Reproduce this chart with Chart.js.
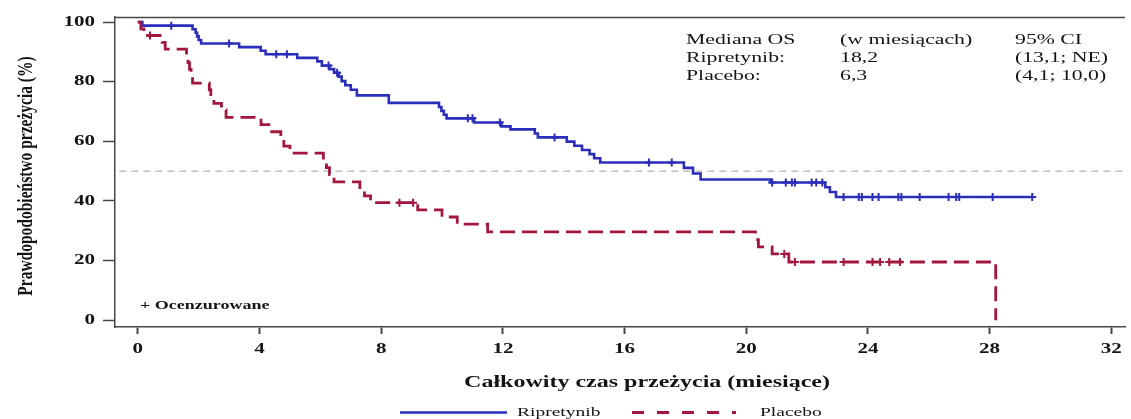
<!DOCTYPE html>
<html lang="pl">
<head>
<meta charset="utf-8">
<title>Całkowity czas przeżycia – Ripretynib vs Placebo</title>
<script src="https://cdn.jsdelivr.net/npm/chart.js@4.4.1/dist/chart.umd.min.js"></script>
<style>
  html, body { margin: 0; padding: 0; background: #ffffff; overflow: hidden; }
  canvas { display: block; }
</style>
</head>
<body>
<canvas id="km" width="1131" height="419"></canvas>
<script>
// ---- data ---------------------------------------------------------------
const xTicks = [0, 4, 8, 12, 16, 20, 24, 28, 32];
const yTicks = [0, 20, 40, 60, 80, 100];

// Kaplan–Meier steps: survival (%) from each time (months) onward
const ripTimes = [0, 0.15, 1.8, 1.9, 1.95, 2.0, 2.08, 3.33, 4.04, 4.2, 5.24, 5.9, 6.05, 6.3, 6.45, 6.6, 6.7, 6.82, 7.0, 7.2,
                  8.25, 9.9, 9.98, 10.06, 10.15, 11.05, 11.95, 12.25, 13.05, 13.15, 14.1, 14.35, 14.6, 14.85, 15.0, 15.2,
                  17.95, 18.25, 18.5, 20.8, 22.6, 22.75, 22.95, 29.4];
const ripSurv  = [100, 98.8, 97.6, 96.4, 95.2, 94.0, 92.8, 91.6, 90.4, 89.2, 88.0, 86.8, 85.4, 84.2, 83.0, 81.7, 80.2, 78.8, 77.3, 75.4,
                  72.9, 71.5, 70.2, 68.9, 67.7, 66.3, 65.0, 64.0, 62.6, 61.3, 59.9, 58.5, 57.1, 55.7, 54.3, 52.9,
                  51.1, 49.2, 47.2, 46.2, 44.6, 43.0, 41.3, 41.3];
const ripCensor = [1.1, 3.0, 4.55, 4.9, 6.27, 6.55, 10.85, 11.0, 11.9, 13.7, 16.8, 17.55, 20.85, 21.3, 21.5, 21.6, 22.15, 22.3, 22.5,
                   23.2, 23.7, 23.8, 24.15, 24.35, 25.0, 25.1, 25.7, 26.65, 26.9, 27.0, 28.1, 29.4];

const plaTimes = [0, 0.1, 0.2, 0.8, 0.9, 1.6, 1.65, 1.7, 1.75, 1.8, 2.35, 2.4, 2.5, 2.75, 2.9, 4.05, 4.4, 4.7, 4.8, 5.0,
                  6.1, 6.2, 6.3, 6.45, 7.3, 7.45, 7.65, 9.2, 10.0, 10.5, 11.5, 20.3, 20.4, 20.85, 21.4, 28.2];
const plaSurv  = [100, 97.7, 95.5, 93.2, 90.9, 88.6, 86.4, 84.1, 81.8, 79.5, 77.3, 75.0, 72.7, 70.5, 68.0, 65.6, 63.2, 60.8, 58.4, 56.0,
                  53.6, 51.2, 48.8, 46.4, 44.0, 41.7, 39.4, 37.0, 34.6, 32.2, 29.6, 27.0, 24.6, 22.2, 19.5, 0];
const plaCensor = [0.4, 8.6, 9.05, 21.25, 21.6, 23.2, 24.15, 24.4, 24.7, 25.05];

const medianLevel = 50;
const seriesNames = ['Ripretynib', 'Placebo'];
const summaryRows = [
  ['Mediana OS', '(w miesiącach)', '95% CI'],
  ['Ripretynib:', '18,2', '(13,1; NE)'],
  ['Placebo:', '6,3', '(4,1; 10,0)']
];
const censorNote = '+ Ocenzurowane';
const xTitle = 'Całkowity czas przeżycia (miesiące)';
const yTitle = 'Prawdopodobieństwo przeżycia (%)';

// ---- helpers ------------------------------------------------------------
const SERIF = "'Liberation Serif', 'Times New Roman', serif";
const BLUE = '#2b2eba';
const RED = '#a3173e';
const INK = '#141414';
const AXIS = '#474747';

function toPoints(times, surv) {
  return times.map((t, i) => ({ x: t, y: surv[i] }));
}
// survival level of a step curve at time t (places censor ticks on the curve)
function levelAt(times, surv, t) {
  let v = surv[0];
  for (let i = 0; i < times.length; i++) { if (times[i] <= t) v = surv[i]; }
  return v;
}
function censorPoints(times, surv, cens) {
  return cens.map(t => ({ x: t, y: levelAt(times, surv, t) }));
}

// wide serif lettering: horizontal text is drawn stretched sideways
const canvas = document.getElementById('km');
const ctx = canvas.getContext('2d');
const TEXT_STRETCH = 1.5;
const rawFillText = ctx.fillText;
ctx.fillText = function (text, x, y) {
  const m = this.getTransform();
  if (m.b !== 0 || m.c !== 0) return rawFillText.call(this, text, x, y);
  this.save();
  this.translate(x, y);
  this.scale(TEXT_STRETCH, 1);
  rawFillText.call(this, text, 0, 0);
  this.restore();
};

// frame top edge, summary table, titles and legend
const decorations = {
  id: 'decorations',
  afterDraw(chart) {
    const c = chart.ctx;
    const a = chart.chartArea;
    c.save();

    // top edge of the plot frame
    c.strokeStyle = AXIS;
    c.lineWidth = 1.5;
    c.beginPath();
    c.moveTo(a.left, a.top + 0.5);
    c.lineTo(a.right, a.top + 0.5);
    c.stroke();

    // median summary
    c.fillStyle = INK;
    c.font = `14.5px ${SERIF}`;
    c.textAlign = 'left';
    c.textBaseline = 'alphabetic';
    const cols = [686, 840, 1015];
    const rows = [43.5, 61.5, 79.5];
    summaryRows.forEach((r, i) => r.forEach((txt, j) => c.fillText(txt, cols[j], rows[i])));

    // censoring note
    c.font = `bold 12px ${SERIF}`;
    c.fillText(censorNote, 140, 309);

    // x axis title
    c.font = `bold 16px ${SERIF}`;
    c.textAlign = 'center';
    c.fillText(xTitle, 647, 387);

    // y axis title (rotated, glyphs widened across the page)
    c.save();
    c.translate(32, 176);
    c.rotate(-Math.PI / 2);
    c.scale(1, 1.35);
    c.font = `bold 15.5px ${SERIF}`;
    c.textAlign = 'center';
    c.textBaseline = 'alphabetic';
    c.fillText(yTitle, 0, 0);
    c.restore();

    // legend
    const ly = 412.5;
    c.lineCap = 'butt';
    c.strokeStyle = BLUE;
    c.lineWidth = 2.5;
    c.setLineDash([]);
    c.beginPath(); c.moveTo(400, ly); c.lineTo(507, ly); c.stroke();
    c.strokeStyle = RED;
    c.lineWidth = 3;
    c.setLineDash([12, 13]);
    c.beginPath(); c.moveTo(632, ly); c.lineTo(736, ly); c.stroke();
    c.setLineDash([]);
    c.font = `13px ${SERIF}`;
    c.textAlign = 'left';
    c.textBaseline = 'middle';
    c.fillStyle = INK;
    c.fillText(seriesNames[0], 517, ly);
    c.fillText(seriesNames[1], 760, ly);

    c.restore();
  }
};

new Chart(ctx, {
  type: 'line',
  data: {
    datasets: [
      {
        label: 'median',
        data: [{ x: -1, y: medianLevel }, { x: 40, y: medianLevel }],
        borderColor: '#a0a0a0',
        borderWidth: 1,
        borderDash: [7, 5],
        pointRadius: 0,
        order: 10
      },
      {
        label: seriesNames[0],
        data: toPoints(ripTimes, ripSurv),
        stepped: 'before',
        borderColor: BLUE,
        borderWidth: 2.6,
        pointRadius: 0,
        order: 2
      },
      {
        label: seriesNames[1],
        data: toPoints(plaTimes, plaSurv),
        stepped: 'before',
        borderColor: RED,
        borderWidth: 2.8,
        borderDash: [15, 7],
        pointRadius: 0,
        order: 1
      },
      {
        label: seriesNames[0] + ' censored',
        data: censorPoints(ripTimes, ripSurv, ripCensor),
        showLine: false,
        pointStyle: 'cross',
        pointRadius: 4,
        pointBorderWidth: 2,
        pointBorderColor: BLUE,
        order: 0
      },
      {
        label: seriesNames[1] + ' censored',
        data: censorPoints(plaTimes, plaSurv, plaCensor),
        showLine: false,
        pointStyle: 'cross',
        pointRadius: 4,
        pointBorderWidth: 2,
        pointBorderColor: RED,
        order: 0
      }
    ]
  },
  options: {
    responsive: false,
    animation: false,
    devicePixelRatio: 1,
    layout: { padding: { top: 17, right: 0, bottom: 0, left: 0 } },
    plugins: { legend: { display: false }, tooltip: { enabled: false } },
    scales: {
      x: {
        type: 'linear',
        position: 'bottom',
        min: -0.75,
        max: 32.45,
        afterBuildTicks(s) { s.ticks = xTicks.map(v => ({ value: v })); },
        afterFit(s) { s.height = 92; },
        ticks: {
          color: INK,
          font: { family: SERIF, size: 14, weight: 'bold' },
          padding: 7,
          maxRotation: 0,
          autoSkip: false
        },
        grid: { drawOnChartArea: false, tickLength: 7, tickColor: AXIS, tickWidth: 2 },
        border: { color: AXIS, width: 1.5 }
      },
      y: {
        type: 'linear',
        position: 'left',
        min: -2.3,
        max: 101.7,
        afterBuildTicks(s) { s.ticks = yTicks.map(v => ({ value: v })); },
        afterFit(s) { s.width = 115; },
        ticks: {
          color: INK,
          font: { family: SERIF, size: 14, weight: 'bold' },
          padding: 8
        },
        grid: { drawOnChartArea: false, tickLength: 12, tickColor: AXIS, tickWidth: 1.5 },
        border: { color: AXIS, width: 1.5 }
      }
    }
  },
  plugins: [decorations]
});
</script>
</body>
</html>
